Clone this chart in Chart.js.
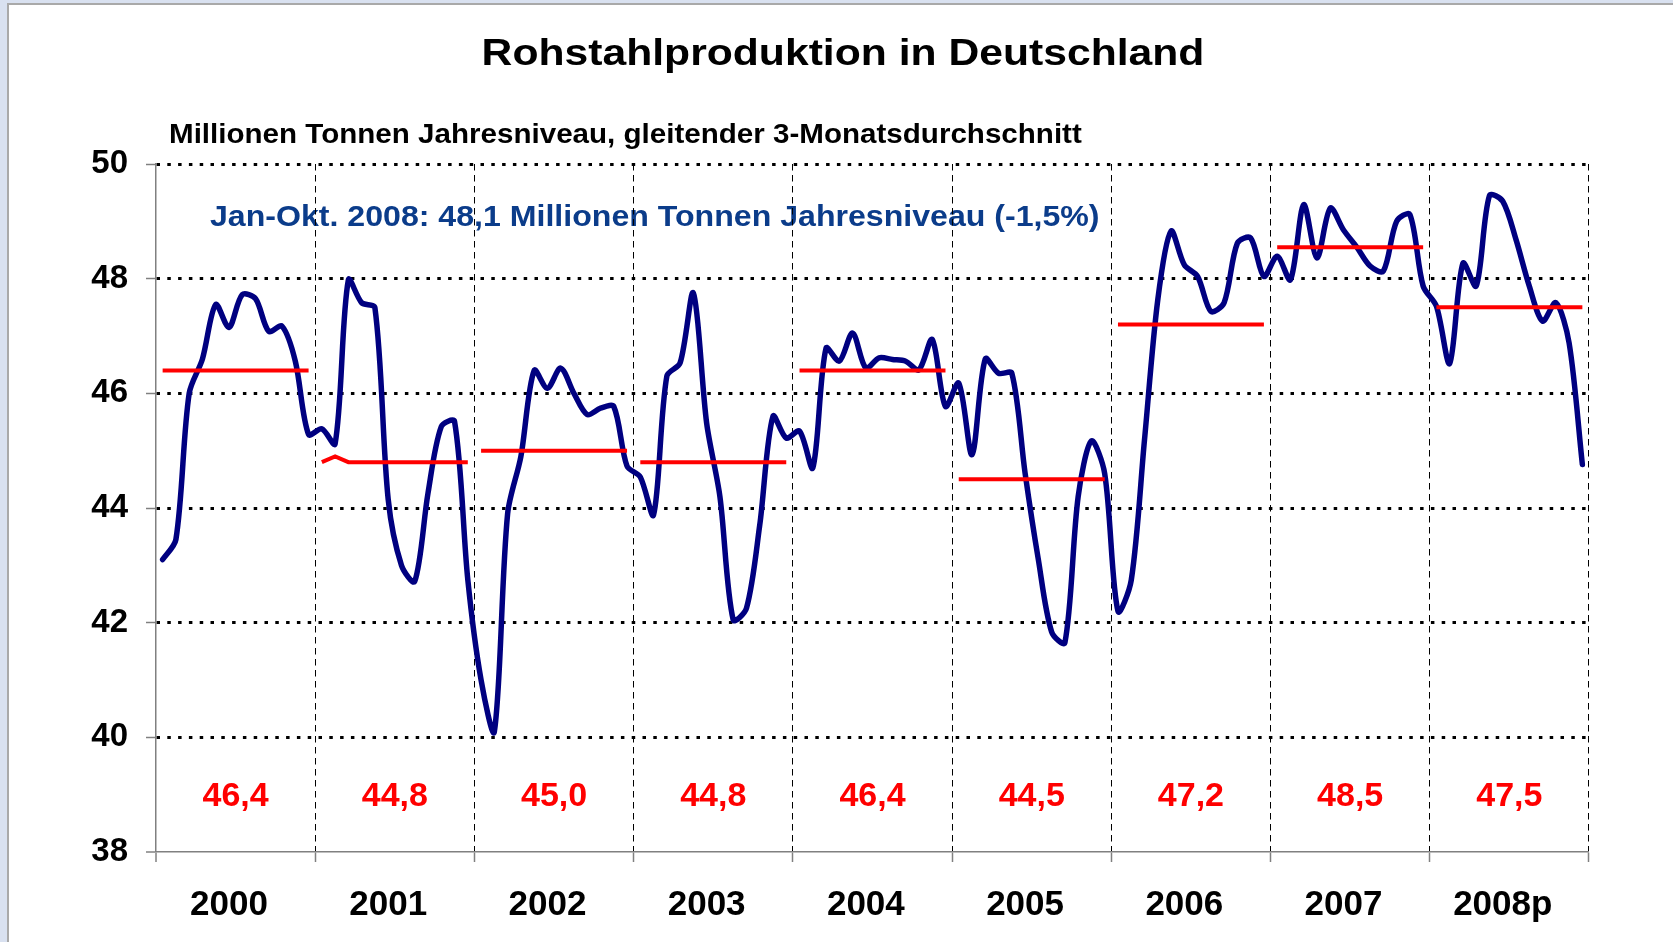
<!DOCTYPE html>
<html>
<head>
<meta charset="utf-8">
<script src="https://cdn.jsdelivr.net/npm/chart.js"></script>
<style>
  body { margin: 0; width: 1673px; height: 942px; overflow: hidden; position: relative; background: #d9e1f0; }
  #frame { position: absolute; left: 7px; top: 3px; right: 0; bottom: 0; background: #fff;
           border-left: 2px solid #a9a9a9; border-top: 2px solid #a9a9a9; }
  #chart { position: absolute; left: 0; top: 0; }
</style>
</head>
<body>
<div id="frame"></div>
<canvas id="chart" width="1673" height="942"></canvas>
<script>
const years = ['2000', '2001', '2002', '2003', '2004', '2005', '2006', '2007', '2008p'];

// Millionen Tonnen Jahresniveau, gleitender 3-Monatsdurchschnitt (Jan..Dez)
const y2000 = [43.1, 43.45, 46.0, 46.6, 47.55, 47.15, 47.72, 47.65, 47.08, 47.17, 46.56, 45.28];
const y2001 = [45.38, 45.12, 47.98, 47.58, 47.49, 44.15, 43.0, 42.72, 44.26, 45.42, 45.51, 42.75];
const y2002 = [41.0, 40.1, 43.9, 44.9, 46.4, 46.09, 46.44, 46.0, 45.63, 45.74, 45.77, 44.73];
const y2003 = [44.54, 43.88, 46.3, 46.53, 47.75, 45.48, 44.2, 42.05, 42.25, 43.7, 45.6, 45.22];
const y2004 = [45.34, 44.7, 46.79, 46.56, 47.05, 46.44, 46.62, 46.59, 46.56, 46.41, 46.94, 45.77];
const y2005 = [46.18, 44.93, 46.6, 46.35, 46.35, 44.61, 43.1, 41.84, 41.65, 44.2, 45.17, 44.6];
const y2006 = [42.2, 42.74, 45.19, 47.63, 48.83, 48.24, 48.04, 47.43, 47.58, 48.62, 48.71, 48.04];
const y2007 = [48.39, 47.98, 49.29, 48.36, 49.23, 48.85, 48.55, 48.22, 48.13, 49.0, 49.12, 47.87];
const y2008 = [47.52, 46.52, 48.27, 47.87, 49.45, 49.35, 48.68, 47.87, 47.26, 47.58, 46.88, 44.76];

// Jahresdurchschnitt (rote Linien) und Beschriftung
const levels = [46.4, 44.8, 45.0, 44.8, 46.4, 44.5, 47.2, 48.55, 47.5];
const levelLabels = ['46,4', '44,8', '45,0', '44,8', '46,4', '44,5', '47,2', '48,5', '47,5'];
const level2001Feb = 44.9;

const yTicks = [38, 40, 42, 44, 46, 48, 50];

const FONT = '"Liberation Sans", Arial, sans-serif';

const yearSeries = [y2000, y2001, y2002, y2003, y2004, y2005, y2006, y2007, y2008];
const months = [];
years.forEach(y => { for (let m = 1; m <= 12; m++) months.push(y + '-' + m); });
const production = [].concat(...yearSeries);
const levelLine = months.map((m, i) => levels[Math.floor(i / 12)]);
levelLine[13] = level2001Feb;

const isYearStart = c => c.index === undefined || c.index % 12 === 0;

// text a bit wider than the font, like the original
function wideText(ctx, str, x, y, sx){
    ctx.save();
    ctx.translate(x, y);
    ctx.scale(sx, 1);
    ctx.fillText(str, 0, 0);
    ctx.restore();
}

const textPlugin = {
    id: 'texts',
    beforeDraw(chart){
        const ctx = chart.ctx;
        const x = chart.scales.x;
        const y = chart.scales.y;
        ctx.save();
        ctx.fillStyle = '#000';
        ctx.textBaseline = 'alphabetic';
        ctx.textAlign = 'center';
        ctx.font = 'bold 36px ' + FONT;
        wideText(ctx, 'Rohstahlproduktion in Deutschland', 843, 65, 1.185);
        ctx.textAlign = 'left';
        ctx.font = 'bold 27px ' + FONT;
        wideText(ctx, 'Millionen Tonnen Jahresniveau, gleitender 3-Monatsdurchschnitt', 169, 143, 1.095);
        ctx.fillStyle = '#0b3c8a';
        ctx.font = 'bold 30px ' + FONT;
        wideText(ctx, 'Jan-Okt. 2008: 48,1 Millionen Tonnen Jahresniveau (-1,5%)', 210, 226, 1.07);

        ctx.fillStyle = '#ff0000';
        ctx.font = 'bold 34px ' + FONT;
        ctx.textAlign = 'center';
        ctx.textBaseline = 'middle';
        levelLabels.forEach((t, k) => {
            const cx = (x.getPixelForValue(k * 12 + 5) + x.getPixelForValue(k * 12 + 6)) / 2;
            ctx.fillText(t, cx, y.getPixelForValue(38.96));
        });
        ctx.restore();
    }
};

new Chart(document.getElementById('chart'), {
    type: 'line',
    data: {
        labels: months,
        datasets: [{
            data: levelLine,
            borderColor: '#ff0000',
            borderWidth: 4,
            pointRadius: 0,
            tension: 0,
            order: 0,
            segment: {
                borderColor: c => c.p0DataIndex % 12 === 11 ? 'rgba(0,0,0,0)' : undefined
            }
        }, {
            data: production,
            borderColor: '#000080',
            borderWidth: 5.5,
            pointRadius: 0,
            tension: 0.3,
            borderJoinStyle: 'round',
            borderCapStyle: 'round',
            order: 1
        }]
    },
    options: {
        responsive: false,
        animation: false,
        layout: { padding: { left: 0, right: 84, top: 164, bottom: 0 } },
        plugins: { legend: { display: false }, tooltip: { enabled: false } },
        scales: {
            x: {
                offset: true,
                ticks: {
                    autoSkip: false, maxRotation: 0, minRotation: 0, padding: 22,
                    color: '#000', font: { family: FONT, size: 35, weight: 'bold' },
                    callback: (v, i) => i % 12 === 5 ? years[Math.floor(i / 12)] : ''
                },
                grid: {
                    offset: true,
                    color: '#000',
                    lineWidth: c => (isYearStart(c) && c.index !== 0) ? 1 : 0,
                    tickColor: '#808080',
                    tickWidth: c => isYearStart(c) ? 1.5 : 0,
                    tickLength: 10
                },
                border: { color: '#808080', width: 1.5, dash: [6.5, 4.5] },
                afterFit: s => { s.height = 90; }
            },
            y: {
                min: 38, max: 50,
                afterBuildTicks: s => { s.ticks = yTicks.map(v => ({ value: v })); },
                ticks: {
                    padding: 18, color: '#000',
                    font: { family: FONT, size: 33, weight: 'bold' }
                },
                grid: {
                    color: '#000',
                    lineWidth: c => (c.tick && c.tick.value === 38) ? 0 : 3,
                    tickColor: '#808080',
                    tickWidth: 1.5,
                    tickLength: 10
                },
                border: { color: '#808080', width: 1.5, dash: [3.5, 7.3] },
                afterFit: s => { s.width = 156; }
            }
        }
    },
    plugins: [textPlugin]
});
</script>
</body>
</html>
